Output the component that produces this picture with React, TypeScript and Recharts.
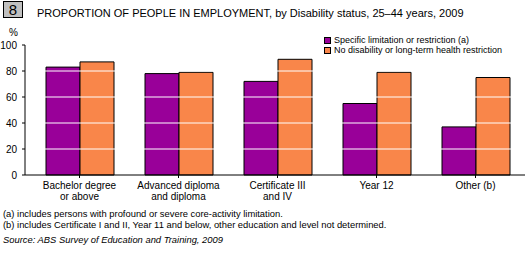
import React from 'react';
import { BarChart, Bar, XAxis, YAxis, ReferenceLine } from 'recharts';

const categories = [
  ['Bachelor degree', 'or above'],
  ['Advanced diploma', 'and diploma'],
  ['Certificate III', 'and IV'],
  ['Year 12'],
  ['Other (b)'],
];
const specificLimitation = [83, 78, 72, 55, 37];
const noDisability = [87, 79, 89, 79, 75];
const yTicks = [0, 20, 40, 60, 80, 100];
const gridLines = [20, 40, 60, 80];

const seriesNames = [
  'Specific limitation or restriction (a)',
  'No disability or long-term health restriction',
];
const COLORS = ['#990099', '#F9864A'];
const FONT = '"Liberation Sans", Arial, sans-serif';

const data = categories.map((lines, i) => ({
  name: lines.join(' '),
  limited: specificLimitation[i],
  none: noDisability[i],
}));

const CategoryTick = (props: any) => {
  const { x, y, index } = props;
  const lines = categories[index] || [];
  return (
    <g>
      <line x1={x} x2={x} y1={y - 8} y2={y - 5} stroke="#000" />
      <text x={x} y={y + 6} textAnchor="middle" fontSize={10} fontFamily={FONT} fill="#000">
        {lines.map((l, k) => (
          <tspan key={k} x={x} dy={k === 0 ? 0 : 11}>
            {l}
          </tspan>
        ))}
      </text>
    </g>
  );
};

const LegendBox = () => (
  <div style={{ fontFamily: FONT, fontSize: 9, lineHeight: '10px' }}>
    {seriesNames.map((n, i) => (
      <div key={n} style={{ display: 'flex', alignItems: 'center', height: 10 }}>
        <span
          style={{
            display: 'inline-block',
            width: 5,
            height: 5,
            background: COLORS[i],
            border: '1px solid #000',
            marginRight: 3,
          }}
        />
        {n}
      </div>
    ))}
  </div>
);

export default function App() {
  return (
    <div style={{ position: 'absolute', left: 0, top: 0, width: 529, height: 253, background: '#fff' }}>
      <div
        style={{
          position: 'absolute',
          left: 3,
          top: 1,
          width: 18,
          height: 15,
          background: '#C0C0C0',
          border: '1px solid #000',
          fontFamily: FONT,
          fontSize: 15,
          lineHeight: '15px',
          textAlign: 'center',
        }}
      >
        8
      </div>
      <div style={{ position: 'absolute', left: 37, top: 7, fontFamily: FONT, fontSize: 11, whiteSpace: 'nowrap' }}>
        PROPORTION OF PEOPLE IN EMPLOYMENT, by Disability status, 25–44 years, 2009
      </div>
      <div style={{ position: 'absolute', left: 9, top: 27, fontFamily: FONT, fontSize: 10 }}>%</div>
      <div style={{ position: 'absolute', left: 324, top: 35 }}>
        <LegendBox />
      </div>
      <BarChart
        width={529}
        height={253}
        data={data}
        margin={{ top: 45, right: 4, bottom: 48, left: 0 }}
        barGap={0}
        barSize={34}
      >
        <YAxis
          width={25}
          domain={[0, 100]}
          ticks={yTicks}
          tickSize={3}
          tickMargin={5}
          axisLine={{ stroke: '#000' }}
          tickLine={{ stroke: '#000' }}
          tick={{ fontSize: 10, fontFamily: FONT, fill: '#000' }}
          interval={0}
        />
        <XAxis
          dataKey="name"
          height={30}
          padding={{ left: 5, right: 0 }}
          axisLine={{ stroke: '#000' }}
          tickLine={false}
          tick={<CategoryTick />}
          interval={0}
        />
        <Bar dataKey="limited" fill={COLORS[0]} stroke="#000" strokeWidth={1} isAnimationActive={false} />
        <Bar dataKey="none" fill={COLORS[1]} stroke="#000" strokeWidth={1} isAnimationActive={false} />
        {gridLines.map((v) => (
          <ReferenceLine key={v} y={v} stroke="#fff" strokeWidth={1} />
        ))}
      </BarChart>
      <div style={{ position: 'absolute', left: 3, top: 208, fontFamily: FONT, fontSize: 9.4, lineHeight: '11px', whiteSpace: 'nowrap' }}>
        <div>(a) includes persons with profound or severe core-activity limitation.</div>
        <div>(b) includes Certificate I and II, Year 11 and below, other education and level not determined.</div>
        <div style={{ fontStyle: 'italic', marginTop: 4 }}>Source: ABS Survey of Education and Training, 2009</div>
      </div>
    </div>
  );
}
